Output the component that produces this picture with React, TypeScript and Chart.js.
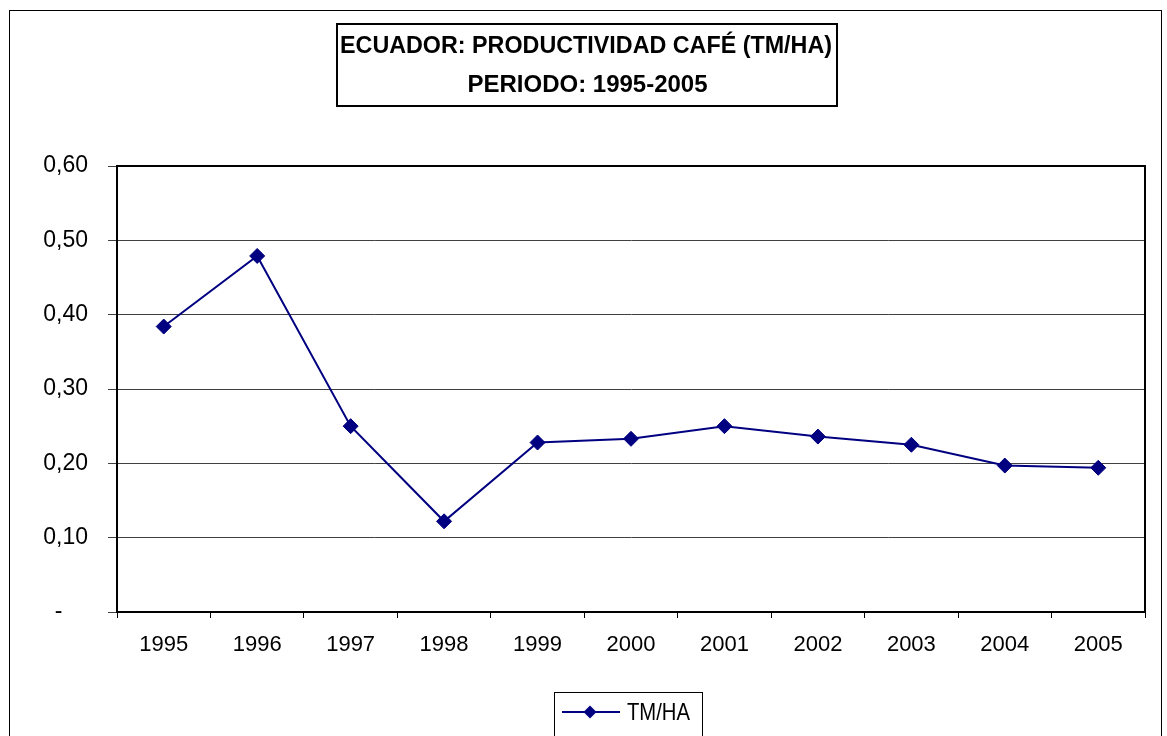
import React, { useEffect, useRef } from "react";
import { Chart, registerables } from "chart.js";

Chart.register(...registerables);

const years = ["1995", "1996", "1997", "1998", "1999", "2000", "2001", "2002", "2003", "2004", "2005"];
const tmPerHa = [0.384, 0.479, 0.25, 0.122, 0.228, 0.233, 0.25, 0.236, 0.225, 0.197, 0.194];
const titleLines = ["ECUADOR: PRODUCTIVIDAD CAFÉ (TM/HA)", "PERIODO: 1995-2005"];
const seriesName = "TM/HA";
const yTicks = [0, 0.1, 0.2, 0.3, 0.4, 0.5, 0.6];

const NAVY = "#000080";
const FONT = '"Liberation Sans", Arial, sans-serif';

function fitText(ctx: CanvasRenderingContext2D, text: string, cx: number, y: number, maxW: number) {
  const w = ctx.measureText(text).width;
  const s = w > maxW ? maxW / w : 1;
  ctx.save();
  ctx.translate(cx, y);
  ctx.scale(s, 1);
  ctx.fillText(text, 0, 0);
  ctx.restore();
}

const decorPlugin = {
  id: "decor",
  beforeDraw(chart: any) {
    const ctx = chart.ctx;
    ctx.save();
    ctx.fillStyle = "#ffffff";
    ctx.fillRect(0, 0, chart.width, chart.height);
    ctx.strokeStyle = "#000000";
    ctx.lineWidth = 1;
    ctx.strokeRect(9.5, 10.5, 1152, 740);
    ctx.restore();
  },
  afterDraw(chart: any) {
    const ctx = chart.ctx;
    const a = chart.chartArea;
    ctx.save();
    ctx.strokeStyle = "#000000";
    ctx.lineWidth = 2;
    ctx.strokeRect(a.left, a.top, a.right - a.left, a.bottom - a.top);

    // title box
    ctx.lineWidth = 2;
    ctx.strokeRect(337, 24, 500, 82);
    ctx.fillStyle = "#000000";
    ctx.font = `bold 24px ${FONT}`;
    ctx.textAlign = "center";
    ctx.textBaseline = "alphabetic";
    fitText(ctx, titleLines[0], 586, 53, 492);
    fitText(ctx, titleLines[1], 587.5, 92, 242);

    // legend
    ctx.lineWidth = 1;
    ctx.strokeStyle = "#000000";
    ctx.strokeRect(554.5, 692.5, 148, 44);
    const ly = 712;
    ctx.strokeStyle = NAVY;
    ctx.lineWidth = 2;
    ctx.beginPath();
    ctx.moveTo(562, ly);
    ctx.lineTo(620, ly);
    ctx.stroke();
    ctx.fillStyle = NAVY;
    ctx.beginPath();
    const r = 6.5;
    ctx.moveTo(590 - r, ly);
    ctx.lineTo(590, ly - r);
    ctx.lineTo(590 + r, ly);
    ctx.lineTo(590, ly + r);
    ctx.closePath();
    ctx.fill();
    ctx.fillStyle = "#000000";
    ctx.font = `24px ${FONT}`;
    ctx.textAlign = "center";
    ctx.textBaseline = "middle";
    fitText(ctx, seriesName, 658.5, ly + 1, 63);
    ctx.restore();
  },
};

export default function App() {
  const ref = useRef<HTMLCanvasElement | null>(null);
  useEffect(() => {
    document.body.style.margin = "0";
    const chart = new Chart(ref.current as HTMLCanvasElement, {
      type: "line",
      data: {
        labels: years,
        datasets: [
          {
            label: seriesName,
            data: tmPerHa,
            borderColor: NAVY,
            backgroundColor: NAVY,
            borderWidth: 2,
            pointStyle: "rectRot",
            pointRadius: 7.5,
            pointBorderWidth: 1,
            pointBackgroundColor: NAVY,
            pointBorderColor: NAVY,
            tension: 0,
          },
        ],
      },
      options: {
        animation: false,
        responsive: false,
        maintainAspectRatio: false,
        layout: { padding: { top: 166, right: 22, bottom: 0, left: 0 } },
        plugins: {
          legend: { display: false },
          title: { display: false },
          tooltip: { enabled: false },
        },
        scales: {
          x: {
            type: "category",
            offset: true,
            grid: {
              offset: true,
              drawOnChartArea: false,
              drawTicks: true,
              tickLength: 6,
              color: "#000000",
              lineWidth: 1,
            },
            border: { display: true, color: "#000000", width: 2 },
            ticks: {
              font: { family: FONT, size: 22 },
              color: "#000000",
              padding: 14,
              maxRotation: 0,
              autoSkip: false,
            },
            afterFit(scale: any) {
              scale.height = 124;
            },
          },
          y: {
            min: 0,
            max: 0.6,
            afterBuildTicks(scale: any) {
              scale.ticks = yTicks.map((v) => ({ value: v }));
            },
            grid: {
              color: "#404040",
              lineWidth: 1,
              tickLength: 9,
              drawTicks: true,
            },
            border: { display: true, color: "#000000", width: 2 },
            ticks: {
              font: { family: FONT, size: 23 },
              color: "#000000",
              padding: 20,
              callback: (v: any) => (Number(v) === 0 ? "-    " : Number(v).toFixed(2).replace(".", ",")),
            },
            afterFit(scale: any) {
              scale.width = 117;
            },
          },
        },
      },
      plugins: [decorPlugin],
    });
    return () => chart.destroy();
  }, []);
  return (
    <div style={{ position: "absolute", left: 0, top: 0, width: 1167, height: 736 }}>
      <canvas ref={ref} width={1167} height={736} style={{ width: 1167, height: 736, display: "block" }} />
    </div>
  );
}
